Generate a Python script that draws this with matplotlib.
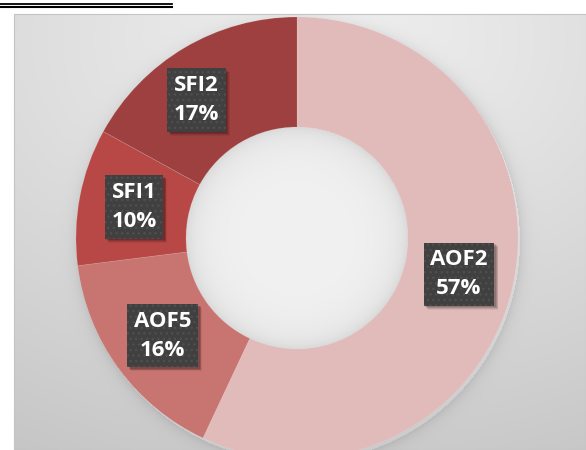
import numpy as np
import matplotlib
matplotlib.use("Agg")
import matplotlib.pyplot as plt
from matplotlib.patches import Rectangle

# data
labels = ["AOF2", "AOF5", "SFI1", "SFI2"]
shares = [57, 16, 10, 17]
colors = ["#e1baba", "#c87471", "#b84846", "#9e403f"]

W, H = 586, 450
cx, cy_down = 297, 238          # donut centre in pixel coords (y from top)
cy = H - cy_down
r_out, r_in = 221, 111

fig = plt.figure(figsize=(W / 100, H / 100), dpi=100)
fig.patch.set_facecolor("white")
ax = fig.add_axes([0, 0, 1, 1])

# chart area background: soft radial grey gradient + donut shadow
x0, y0 = 14, 14
xs = np.arange(x0, W) + 0.5
ys = np.arange(y0, H) + 0.5
X, Y = np.meshgrid(xs, ys)
d = np.sqrt(((X - 330) / 1.4) ** 2 + (Y - 40) ** 2)
bg = 0.94 - 0.17 * np.clip(d / 480, 0, 1) ** 1.1
rd = np.sqrt((X - cx - 2) ** 2 + (Y - cy_down - 3) ** 2)
bg = np.where(rd > r_out, bg - 0.08 * np.exp(-(rd - r_out) / 6), bg)
# hole
rh = np.sqrt((X - cx) ** 2 + (Y - cy_down) ** 2)
hole = 0.945 - 0.05 * (np.clip(rh / r_in, 0, 1)) ** 4 - 0.045 * np.exp(-(r_in - rh) / 6)
bg = np.where(rh < r_in, hole, bg)
bg = np.clip(bg, 0, 1)
img = np.dstack([bg, bg, bg])
ax.imshow(img, extent=(x0, W, 0, H - y0), origin="upper", interpolation="bilinear", zorder=0)
ax.add_patch(Rectangle((x0, 0), W - x0, H - y0, facecolor="none",
                       edgecolor="#c4c4c4", linewidth=0.8, zorder=1))

wedges, _ = ax.pie(shares, colors=colors, startangle=90, counterclock=False,
                   radius=r_out, center=(cx, cy),
                   wedgeprops=dict(width=r_out - r_in, edgecolor=(1, 1, 1, 0.12), linewidth=0.6))
for w in wedges:
    w.set_zorder(2)

ax.set_xlim(0, W)
ax.set_ylim(0, H)
ax.set_aspect("auto")
ax.axis("off")

# data labels in dark boxes
nudges = {"SFI2": (-16, -5)}
r_lab = 166
fnt = dict(fontsize=16, fontweight="bold", family="Open Sans", linespacing=1.5)
texts = []
for w, lab, val in zip(wedges, labels, shares):
    mid = np.deg2rad((w.theta1 + w.theta2) / 2)
    lx = cx + r_lab * np.cos(mid)
    ly = cy + r_lab * np.sin(mid)
    dx, dy = nudges.get(lab, (0, 0))
    lx += dx
    ly += dy
    t = ax.text(lx, ly, f"{lab}\n{val}%", ha="center", va="center", color="white", **fnt,
                bbox=dict(boxstyle="square,pad=0.3", facecolor="#404040",
                          edgecolor="#4f4f4f", linewidth=0, hatch="..."), zorder=4)
    texts.append(t)

# soft shadows behind the label boxes (axes units == pixels here)
fig.canvas.draw()
for t in texts:
    bb = t.get_bbox_patch().get_window_extent()
    for k, a in [(2, 0.14), (3, 0.12), (4, 0.10), (5, 0.06)]:
        ax.add_patch(Rectangle((bb.x0 + k * 0.8, bb.y0 - k * 0.8), bb.width, bb.height,
                               facecolor=(0, 0, 0, a), edgecolor="none", zorder=3))

# double rule at the top left (remains of the heading above)
ax.plot([0, 172], [H - 3.8, H - 3.8], color="black", linewidth=1.3, clip_on=False, zorder=5)
ax.plot([0, 172], [H - 7.0, H - 7.0], color="black", linewidth=1.5, clip_on=False, zorder=5)

fig.savefig("out.png", dpi=100)
